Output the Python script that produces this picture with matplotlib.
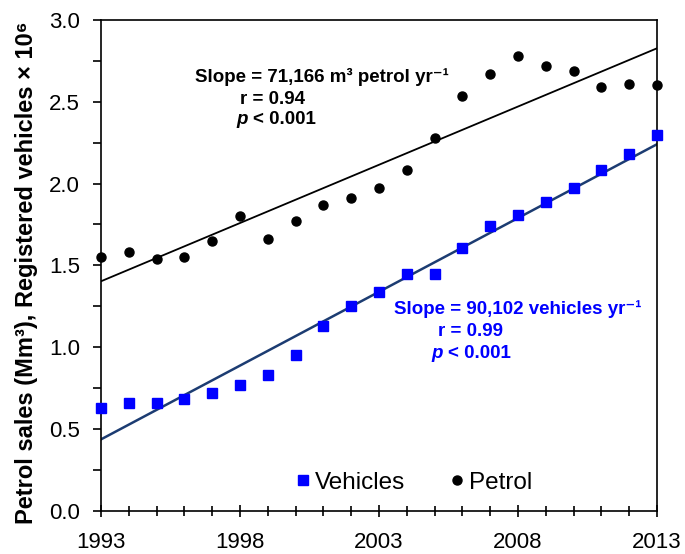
import numpy as np
import matplotlib.pyplot as plt
from matplotlib.ticker import MultipleLocator, FormatStrFormatter

plt.rcParams['font.family'] = ['Liberation Sans', 'DejaVu Sans']

years = list(range(1993, 2014))
petrol = [1.55, 1.58, 1.54, 1.55, 1.65, 1.80, 1.66, 1.77, 1.87, 1.91, 1.97,
          2.08, 2.28, 2.535, 2.67, 2.78, 2.72, 2.69, 2.59, 2.61, 2.605]
vehicles = [0.625, 0.66, 0.66, 0.685, 0.72, 0.77, 0.83, 0.95, 1.13, 1.25, 1.34,
            1.45, 1.45, 1.605, 1.74, 1.81, 1.89, 1.975, 2.085, 2.18, 2.295]
xticks = [1993, 1998, 2003, 2008, 2013]


def fit_line(x, y):
    b1, b0 = np.polyfit(x, y, 1)
    return [b0 + b1 * xi for xi in x]


fig = plt.figure(figsize=(6.85, 5.54), dpi=100)
ax = fig.add_axes([0.1474, 0.0782, 0.8117, 0.8857])

x = np.array(years)
ax.plot(x, fit_line(x, petrol), color='black', lw=1.3, zorder=2)
ax.plot(x, fit_line(x, vehicles), color='#1c3c72', lw=1.8, zorder=2)
ax.plot(x, vehicles, 's', color='#0000ff', ms=7, label='Vehicles', zorder=3, clip_on=False)
ax.plot(x, petrol, 'o', color='black', ms=6.5, label='Petrol', zorder=3, clip_on=False)

ax.set_xlim(1993, 2013)
ax.set_ylim(0, 3.0)
ax.set_xticks(xticks)
ax.xaxis.set_minor_locator(MultipleLocator(1))
ax.yaxis.set_major_locator(MultipleLocator(0.5))
ax.yaxis.set_minor_locator(MultipleLocator(0.25))
ax.yaxis.set_major_formatter(FormatStrFormatter('%.1f'))
ax.tick_params(axis='x', which='major', direction='inout', length=8, width=1.2,
               labelsize=16, pad=11, bottom=True, color='black')
ax.tick_params(axis='x', which='minor', direction='inout', length=7, width=1.2,
               bottom=True, color='black')
ax.tick_params(axis='y', which='both', direction='out', length=6, width=1.2,
               labelsize=16, pad=9, left=True, color='black')
for s in ax.spines.values():
    s.set_linewidth(1.2)
    s.set_color('black')

ax.set_ylabel('Petrol sales (Mm³), Registered vehicles × 10⁶',
              fontsize=17, fontweight='bold')
ax.yaxis.set_label_coords(-0.113, 0.485)


def pix(px, py, s, color, ha='center', style='normal'):
    fig.text(px / 685, 1 - py / 554, s, fontsize=13.5, fontweight='bold', color=color,
             ha=ha, va='center', style=style)


pix(322, 77, 'Slope = 71,166 m³ petrol yr⁻¹', 'black')
pix(272, 99, 'r = 0.94', 'black')
pix(248, 120, 'p', 'black', ha='right', style='italic')
pix(253, 120, '< 0.001', 'black', ha='left')

pix(518, 309, 'Slope = 90,102 vehicles yr⁻¹', '#0000ff')
pix(470, 332, 'r = 0.99', '#0000ff')
pix(443, 353, 'p', '#0000ff', ha='right', style='italic')
pix(448, 353, '< 0.001', '#0000ff', ha='left')

ax.legend(loc='lower center', bbox_to_anchor=(0.563, 0.0), ncol=2, frameon=False,
          fontsize=17.5, handletextpad=0.2, columnspacing=1.83, handlelength=0.6,
          borderaxespad=0.3)

fig.savefig('out.png', dpi=100)
